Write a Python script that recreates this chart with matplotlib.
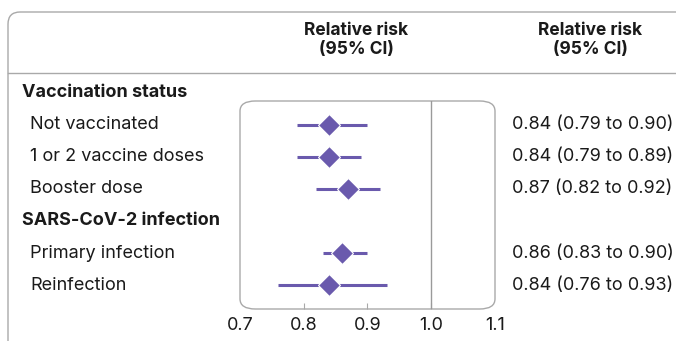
import matplotlib
matplotlib.use("Agg")
import matplotlib.pyplot as plt
from matplotlib.patches import FancyBboxPatch
from matplotlib.transforms import blended_transform_factory
from matplotlib.lines import Line2D

plt.rcParams['font.family'] = ['Inter', 'DejaVu Sans']

# ---- data ----
row_labels = ["Vaccination status", "Not vaccinated", "1 or 2 vaccine doses", "Booster dose",
              "SARS-CoV-2 infection", "Primary infection", "Reinfection"]
is_header = [True, False, False, False, True, False, False]
rr = [None, 0.84, 0.84, 0.87, None, 0.86, 0.84]
lo = [None, 0.79, 0.79, 0.82, None, 0.83, 0.76]
hi = [None, 0.90, 0.89, 0.92, None, 0.90, 0.93]
rr_text = ["", "0.84 (0.79 to 0.90)", "0.84 (0.79 to 0.89)", "0.87 (0.82 to 0.92)", "",
           "0.86 (0.83 to 0.90)", "0.84 (0.76 to 0.93)"]
xticks = [0.7, 0.8, 0.9, 1.0, 1.1]
xtick_labels = ["0.7", "0.8", "0.9", "1.0", "1.1"]
col_header = "Relative risk\n(95% CI)"

W, H = 676, 341
fig = plt.figure(figsize=(W / 100, H / 100), dpi=100)

def fx(px):
    return px / W

def fy(py):
    return 1 - py / H

purple = "#6a5aad"
grey = "#a9a9a9"
txt = "#1a1a1a"
FS = 13

# outer rounded box
outer = FancyBboxPatch((fx(8), fy(360)), fx(690) - fx(8), fy(12) - fy(360),
                       boxstyle="round,pad=0,rounding_size=0.018",
                       transform=fig.transFigure, fill=False, ec=grey, lw=1.0,
                       mutation_aspect=W / H)
fig.patches.append(outer)
fig.add_artist(Line2D([fx(8), fx(676)], [fy(73), fy(73)], transform=fig.transFigure,
                      color=grey, lw=1.0))

# forest axes
ax = fig.add_axes([fx(240), fy(309), fx(495) - fx(240), fy(101) - fy(309)])
ax.set_xlim(0.7, 1.1)
ax.set_ylim(6.75, 0.25)
for s in ax.spines.values():
    s.set_visible(False)
ax.patch.set_visible(False)
frame = FancyBboxPatch((0, 0), 1, 1, boxstyle="round,pad=0,rounding_size=0.06",
                       transform=ax.transAxes, fill=False, ec=grey, lw=1.0,
                       mutation_aspect=(309 - 101) / (495 - 240), clip_on=False)
ax.add_patch(frame)
ax.axvline(1.0, color="#9a9a9a", lw=1.0)

ax.set_xticks(xticks)
ax.set_xticklabels(xtick_labels, fontsize=FS, color=txt)
ax.tick_params(axis="x", direction="in", length=4, color=grey, pad=6)
ax.set_yticks([])
for t, v in zip(ax.xaxis.get_major_ticks(), xticks):
    if v in (0.7, 1.1):
        t.tick1line.set_visible(False)

for i in range(len(row_labels)):
    if rr[i] is None:
        continue
    ax.plot([lo[i], hi[i]], [i, i], color=purple, lw=2.2, solid_capstyle="butt", zorder=3)
    ax.plot(rr[i], i, marker="D", color=purple, ms=11, mec="white", mew=0.8, zorder=4)

tr = blended_transform_factory(fig.transFigure, ax.transData)
for i, lab in enumerate(row_labels):
    if is_header[i]:
        ax.text(fx(22), i, lab, transform=tr, ha="left", va="center", fontsize=FS,
                fontweight="bold", color=txt, clip_on=False)
    else:
        ax.text(fx(30), i, lab, transform=tr, ha="left", va="center", fontsize=FS,
                color=txt, clip_on=False)
    if rr_text[i]:
        ax.text(fx(512), i, rr_text[i], transform=tr, ha="left", va="center", fontsize=FS,
                color=txt, clip_on=False)

for cx in (356, 590):
    fig.text(fx(cx), fy(40), col_header, ha="center", va="center", fontsize=12.5,
             fontweight="bold", color=txt, linespacing=1.2)

fig.savefig("out.png", dpi=100)
